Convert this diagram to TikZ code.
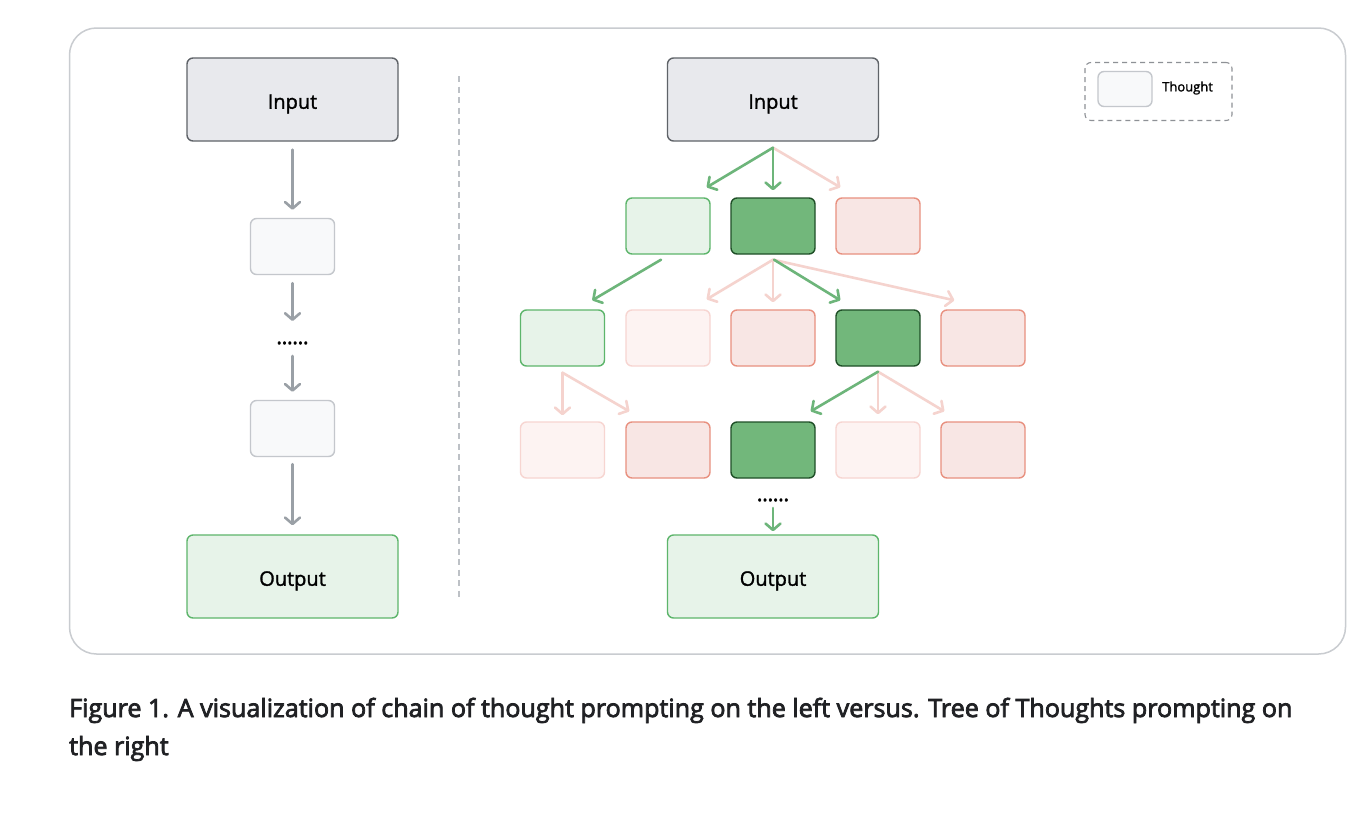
\documentclass[tikz,border=0pt]{standalone}
\usepackage{fontspec}
\setmainfont{Open Sans}
\newfontfamily\capfont[FakeBold=3]{Open Sans}
\newfontfamily\lblfont[FakeBold=1.5]{Open Sans}
\usetikzlibrary{arrows.meta,calc}
\definecolor{frameC}{HTML}{C9CCD0}
\definecolor{inFill}{HTML}{E8E9ED}
\definecolor{inDraw}{HTML}{5F6368}
\definecolor{lgFill}{HTML}{E7F3E9}
\definecolor{lgDraw}{HTML}{5DB56B}
\definecolor{dgFill}{HTML}{72B77B}
\definecolor{dgDraw}{HTML}{1F4F27}
\definecolor{mpFill}{HTML}{F8E6E4}
\definecolor{mpDraw}{HTML}{E8907F}
\definecolor{fpFill}{HTML}{FDF3F2}
\definecolor{fpDraw}{HTML}{F7D5D1}
\definecolor{gyFill}{HTML}{F8F9FA}
\definecolor{gyDraw}{HTML}{C4C7CC}
\definecolor{arrG}{HTML}{6DB57A}
\definecolor{arrP}{HTML}{F5D3CE}
\definecolor{arrGy}{HTML}{9AA0A6}
\definecolor{dashC}{HTML}{BDC1C6}
\definecolor{legC}{HTML}{8E9196}
\definecolor{capC}{HTML}{202124}
\tikzset{
  basebox/.style={rounded corners=6pt, line width=1.4pt, inner sep=0pt},
  iobox/.style={basebox, minimum width=211pt, minimum height=83pt, text height=18.5pt, text depth=0pt, font=\lblfont\fontsize{20}{24}\selectfont},
  thbox/.style={basebox, minimum width=84pt, minimum height=56pt},
  inS/.style={fill=inFill, draw=inDraw},
  outS/.style={fill=lgFill, draw=lgDraw},
  gyS/.style={fill=gyFill, draw=gyDraw},
  lgS/.style={fill=lgFill, draw=lgDraw},
  dgS/.style={fill=dgFill, draw=dgDraw},
  mpS/.style={fill=mpFill, draw=mpDraw},
  fpS/.style={fill=fpFill, draw=fpDraw},
  arrowbase/.style={line width=2.6pt, line cap=round, -{Straight Barb[length=6.5pt,width=15pt,round]}},
  garrow/.style={arrowbase, draw=arrG},
  parrow/.style={arrowbase, draw=arrP},
  gyarrow/.style={arrowbase, draw=arrGy},
  dotsS/.style={font=\capfont\fontsize{20}{24}\selectfont, inner sep=0pt},
}
\begin{document}
\begin{tikzpicture}[x=1pt,y=-1pt]
\useasboundingbox (0,0) rectangle (1348,830);
\fill[white] (0,0) rectangle (1348,830);
% outer frame
\node[draw=frameC, line width=1.5pt, rounded corners=27pt, minimum width=1276pt, minimum height=626pt, inner sep=0pt] (frame) at (707.5,341) {};
% divider
\coordinate (dtop) at (459,76);
\coordinate (dbot) at (459,600);
\draw[dashC, line width=1.5pt, dash pattern=on 6pt off 4.5pt] (dtop) -- (dbot);

% ---------- left: chain of thought ----------
\node[iobox, inS] (inL) at (292.5,99.5) {Input};
\node[thbox, gyS] (tL1) at (292.5,246.5) {};
\node[dotsS] (dotsL) at (292.5,343) {......};
\node[thbox, gyS] (tL2) at (292.5,428.5) {};
\node[iobox, outS] (outL) at (292.5,576.5) {Output};
\draw[gyarrow] ($(inL.south)+(0,8)$) -- ($(tL1.north)+(0,-8)$);
\draw[gyarrow] ($(tL1.south)+(0,8)$) -- ($(dotsL.center)+(0,-22)$);
\draw[gyarrow] ($(dotsL.center)+(0,13)$) -- ($(tL2.north)+(0,-8)$);
\draw[gyarrow] ($(tL2.south)+(0,7)$) -- ($(outL.north)+(0,-9)$);

% ---------- right: tree of thoughts ----------
\node[iobox, inS] (inR) at (773,99.5) {Input};
\node[thbox, lgS] (b11) at (668,226) {};
\node[thbox, dgS] (b12) at (773,226) {};
\node[thbox, mpS] (b13) at (878,226) {};
\node[thbox, lgS] (b21) at (562.5,338) {};
\node[thbox, fpS] (b22) at (668,338) {};
\node[thbox, mpS] (b23) at (773,338) {};
\node[thbox, dgS] (b24) at (878,338) {};
\node[thbox, mpS] (b25) at (983,338) {};
\node[thbox, fpS] (b31) at (562.5,450) {};
\node[thbox, mpS] (b32) at (668,450) {};
\node[thbox, dgS] (b33) at (773,450) {};
\node[thbox, fpS] (b34) at (878,450) {};
\node[thbox, mpS] (b35) at (983,450) {};
\node[dotsS] (dotsR) at (773,500) {......};
\node[iobox, outS] (outR) at (773,576.5) {Output};

% pink (rejected) branches
\draw[parrow] ($(inR.south)+(0,6)$) -- ($(b13.north west)+(5,-10)$);
\draw[parrow] ($(b12.south)+(0,5)$) -- ($(b22.north east)+(-4,-10)$);
\draw[parrow] ($(b12.south)+(0,5)$) -- ($(b23.north)+(0,-7)$);
\draw[parrow] ($(b12.south)+(0,5)$) -- ($(b25.north west)+(14,-9)$);
\draw[parrow] ($(b21.south)+(0,6)$) -- ($(b31.north)+(0,-6)$);
\draw[parrow] ($(b21.south)+(0,6)$) -- ($(b32.north west)+(4,-10)$);
\draw[parrow] ($(b24.south)+(0,5)$) -- ($(b34.north)+(0,-7)$);
\draw[parrow] ($(b24.south)+(0,5)$) -- ($(b35.north west)+(4,-10)$);
% green (kept) branches
\draw[garrow] ($(inR.south)+(0,6)$) -- ($(b11.north east)+(-4,-10)$);
\draw[garrow] ($(inR.south)+(0,6)$) -- ($(b12.north)+(0,-7)$);
\draw[garrow] ($(b11.south)+(-7,5)$) -- ($(b21.north east)+(-13,-9)$);
\draw[garrow] ($(b12.south)+(1,5)$) -- ($(b24.north west)+(5,-9)$);
\draw[garrow] ($(b24.south)+(0,5)$) -- ($(b33.north east)+(-5,-10)$);
\draw[garrow] ($(dotsR.center)+(0,8)$) -- ($(outR.north)+(0,-3)$);

% ---------- legend ----------
\node[draw=legC, line width=1.1pt, dash pattern=on 5pt off 4pt, rounded corners=6pt, minimum width=147pt, minimum height=58pt, inner sep=0pt] (legend) at (1158.5,91.5) {};
\node[basebox, gyS, minimum width=54pt, minimum height=35pt] (legTh) at (1125,89) {};
\node[anchor=west, inner sep=0pt, font=\lblfont\fontsize{13}{15}\selectfont] (legTxt) at (1162,88) {Thought};

% ---------- caption ----------
\node[anchor=base west, align=left, inner sep=0pt, text=capC, font=\capfont\fontsize{25.1}{38}\selectfont] (caption) at (69,755) {Figure 1. A visualization of chain of thought prompting on the left versus. Tree of Thoughts prompting on\\the right};
\end{tikzpicture}
\end{document}
